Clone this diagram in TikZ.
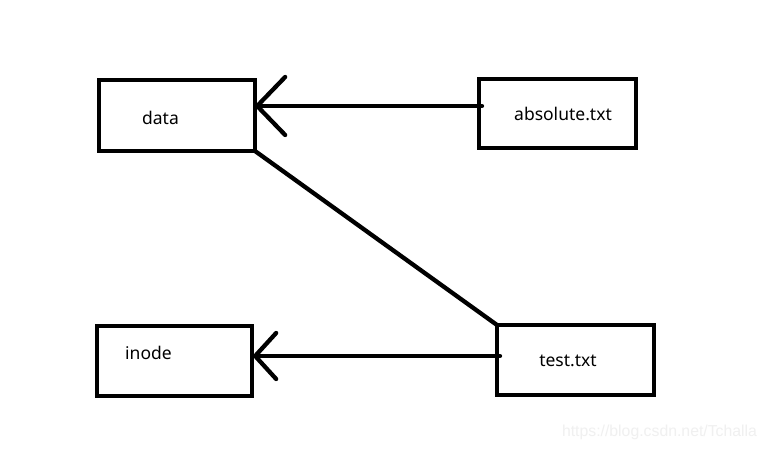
\documentclass[tikz,border=0pt]{standalone}
\usepackage{fontspec}
\setmainfont{Noto Sans}
\newfontfamily\wmfont{Liberation Sans}
\usetikzlibrary{arrows.meta}
\begin{document}
\begin{tikzpicture}[x=1pt,y=-1pt,
  box/.style={draw=black,line width=4.3pt,rectangle,inner sep=0pt,outer sep=0pt},
  lbl/.style={inner sep=0pt,font=\fontsize{17.5}{20}\selectfont},
  conn/.style={line width=4.3pt,line cap=round},
  headbig/.style={-{Straight Barb[length=28pt,width=58pt,round]}},
  headsmall/.style={-{Straight Barb[length=21pt,width=46pt,round]}}]
\useasboundingbox[fill=white] (0,0) rectangle (767,449);
% boxes
\node[box,minimum width=156pt,minimum height=71pt] (data) at (177,115.5) {};
\node[box,minimum width=157pt,minimum height=69pt] (abs) at (557.5,113.5) {};
\node[box,minimum width=155pt,minimum height=70pt] (inode) at (174.5,361) {};
\node[box,minimum width=157pt,minimum height=70pt] (test) at (575.5,360) {};
% labels
\node[lbl] (tdata) at (160.5,118) {data};
\node[lbl] (tabs) at (563,114) {absolute.txt};
\node[lbl] (tinode) at (148.5,353) {inode};
\node[lbl] (ttest) at (568,361) {test.txt};
% connector anchor points
\coordinate (a1) at ([yshift=7.5pt]abs.west);
\coordinate (d1) at ([yshift=9.5pt]data.east);
\coordinate (t1) at ([xshift=3pt,yshift=4pt]test.west);
\coordinate (i1) at ([xshift=1pt,yshift=5pt]inode.east);
\draw[conn,headbig] ([xshift=3pt]a1) -- (d1);
\draw[conn,headsmall] (t1) -- (i1);
\draw[conn] (data.south east) -- (test.north west);
% watermark
\node[inner sep=0pt,text=black!6,font=\wmfont\fontsize{15.8}{18}\selectfont] (wm) at (659.5,432) {https://blog.csdn.net/Tchalla};
\end{tikzpicture}
\end{document}
